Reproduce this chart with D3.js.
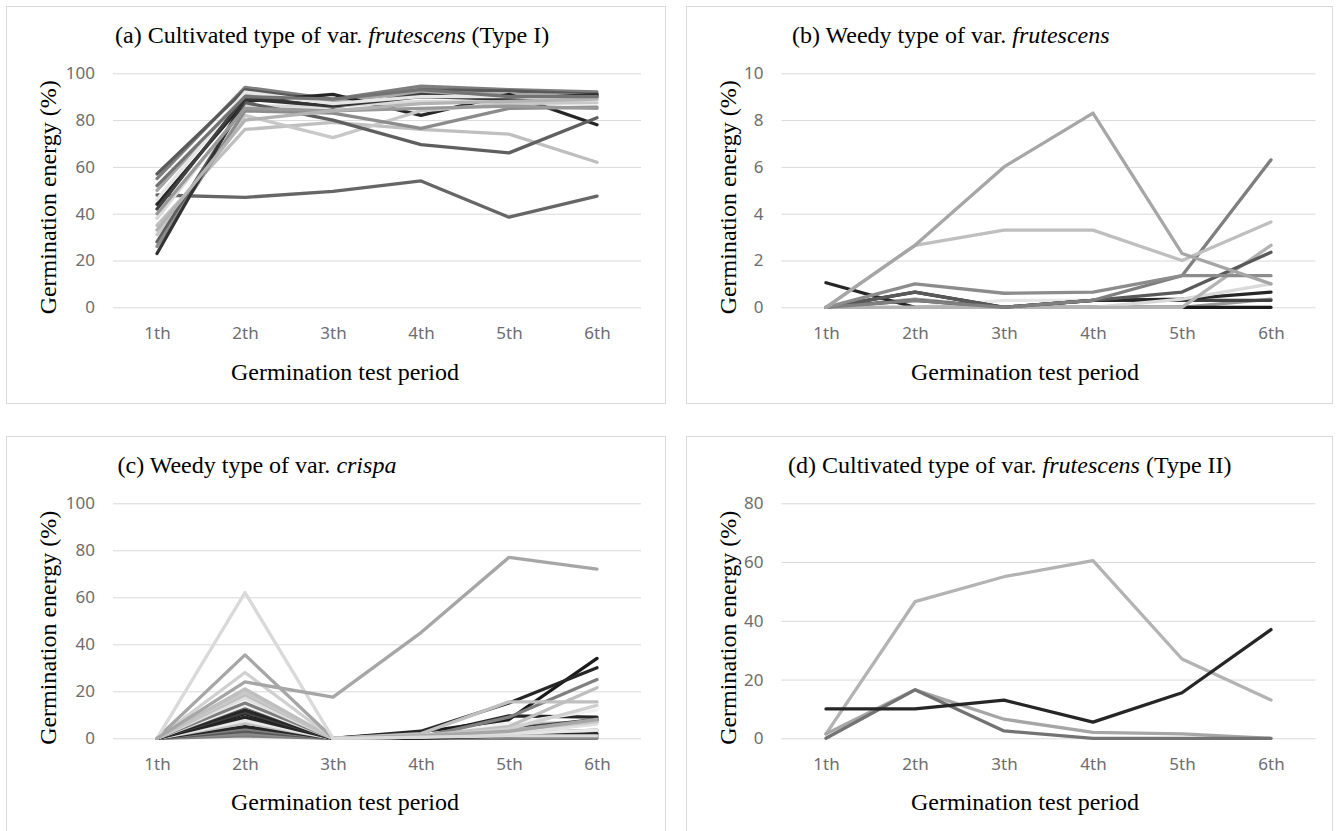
<!DOCTYPE html>
<html>
<head>
<meta charset="utf-8">
<script src="https://cdn.jsdelivr.net/npm/d3@7"></script>
<style>
body { margin: 0; background: #fff; }
.serif { font-family: "Times New Roman", "Liberation Serif", serif; }
.tick text { font-family: "Malgun Gothic", "Noto Sans", sans-serif; font-size: 17px; fill: #6d6d6d; }
</style>
</head>
<body>
<svg id="fig" width="1339" height="831"></svg>
<script>
var periods = ["1th", "2th", "3th", "4th", "5th", "6th"];

var ticksA = [0, 20, 40, 60, 80, 100];
var ticksB = [0, 2, 4, 6, 8, 10];
var ticksC = [0, 20, 40, 60, 80, 100];
var ticksD = [0, 20, 40, 60, 80];

var titleA = ["(a) Cultivated type of var. ", "frutescens", " (Type I)"];
var titleB = ["(b) Weedy type of var. ", "frutescens", ""];
var titleC = ["(c) Weedy type of var. ", "crispa", ""];
var titleD = ["(d) Cultivated type of var. ", "frutescens", " (Type II)"];

// germination energy (%) per accession, 1th..6th period
var seriesA = [
    [55, 94, 89, 94.5, 93, 92],
    [57, 93, 88, 93, 92.5, 91],
    [50, 91, 88, 92, 91, 90.5],
    [48, 47, 49.5, 54, 38.5, 47.5],
    [44, 88, 91, 82, 91, 78],
    [42, 90, 85.5, 91, 88.5, 90],
    [38, 86, 86, 88, 88, 89],
    [35, 76, 79, 76, 74, 62],
    [31, 82, 72.5, 84, 87, 87.5],
    [28, 87.5, 80, 69.5, 66, 81],
    [26, 84, 83, 76.5, 85, 85.5],
    [23, 89, 86, 90, 89, 91],
    [46, 92, 87, 90, 90, 88.5],
    [40, 85, 84, 85, 86, 85],
    [33, 80, 84, 87, 88, 89],
    [52, 90, 89, 93, 90, 90]
];
var greysA = ["#7f7f7f", "#595959", "#a6a6a6", "#666666", "#262626", "#404040", "#d9d9d9", "#bfbfbf",
              "#c8c8c8", "#5f5f5f", "#8c8c8c", "#333333", "#e6e6e6", "#999999", "#b3b3b3", "#737373"];

var seriesB = [
    [0, 0, 0, 0, 0, 0],
    [0, 0, 0.3, 0.3, 0.3, 0.3],
    [0, 0.35, 0, 0, 0, 0.35],
    [0, 0.3, 0, 0.3, 0.3, 0.3],
    [0, 0.65, 0, 0, 0, 0],
    [1.05, 0, 0, 0.3, 0.35, 0.65],
    [0, 0, 0, 0, 0.35, 1.0],
    [0, 0, 0, 0, 0, 2.65],
    [0, 0.65, 0, 0.3, 0.65, 2.35],
    [0, 0.3, 0, 0.3, 1.35, 6.3],
    [0, 1.0, 0.6, 0.65, 1.35, 1.35],
    [0, 2.65, 3.3, 3.3, 2.0, 3.65],
    [0, 2.65, 6.0, 8.3, 2.3, 1.0]
];
var greysB = ["#cccccc", "#e6e6e6", "#999999", "#404040", "#1a1a1a", "#262626", "#d9d9d9",
              "#b3b3b3", "#595959", "#7f7f7f", "#8c8c8c", "#bfbfbf", "#a6a6a6"];

var seriesC = [
    [0, 1, 0, 0, 0, 0],
    [0, 2, 0, 0, 0.5, 0.5],
    [0, 3, 0, 0.5, 1, 1],
    [0, 4, 0, 0, 2, 3.5],
    [0, 5, 0, 0, 1, 2],
    [0, 6.5, 0, 1, 6, 7],
    [0, 7.5, 0, 0.5, 2, 3.5],
    [0, 9, 0, 1, 9.5, 9],
    [0, 10.5, 0, 2.5, 8, 34],
    [0, 11, 0, 1, 4, 8],
    [0, 12, 0, 3, 15, 30],
    [0, 13.5, 0, 1, 3, 8],
    [0, 14, 0, 1.5, 6, 12],
    [0, 15, 0, 0.5, 9, 25],
    [0, 17, 0, 1, 2, 6],
    [0, 18.5, 0, 2, 15.5, 15.5],
    [0, 19.5, 0, 1, 3.5, 7],
    [0, 21, 0, 1, 5, 21.5],
    [0, 28, 0, 0.5, 4, 14],
    [0, 35.5, 0, 1, 3, 8],
    [0, 62, 0, 0.5, 1, 1],
    [0, 24, 17.5, 45, 77, 72]
];
var greysC = ["#7f7f7f", "#8c8c8c", "#595959", "#7f7f7f", "#262626", "#bfbfbf", "#e8e8e8", "#262626",
              "#1a1a1a", "#404040", "#262626", "#595959", "#f0f0f0", "#7f7f7f", "#e0e0e0", "#bfbfbf",
              "#c8c8c8", "#bfbfbf", "#d0d0d0", "#a6a6a6", "#d9d9d9", "#a6a6a6"];

var seriesD = [
    [1.5, 46.5, 55, 60.5, 27, 13],
    [1.5, 16.5, 6.5, 2, 1.5, 0],
    [0, 16.5, 2.5, 0, 0, 0],
    [10, 10, 13, 5.5, 15.5, 37]
];
var greysD = ["#b3b3b3", "#a6a6a6", "#737373", "#262626"];

var svg = d3.select("#fig");

function drawPanel(box, title, ticks, series, greys) {
    var g = svg.append("g");

    g.append("rect")
        .attr("x", box.x + 0.5).attr("y", box.y + 0.5)
        .attr("width", box.w).attr("height", box.h)
        .attr("fill", "none").attr("stroke", "#d9d9d9");

    var x = d3.scalePoint().domain(periods).range([box.px0, box.px1]).padding(0.5),
        y = d3.scaleLinear().domain([0, d3.max(ticks)]).range([box.py0, box.py1]);

    // gridlines + y labels
    var ya = g.append("g").attr("transform", "translate(" + box.px0 + ",0)")
        .call(d3.axisLeft(y).tickValues(ticks).tickSize(-(box.px1 - box.px0)).tickPadding(18));
    ya.select(".domain").remove();
    ya.selectAll(".tick line").attr("stroke", "#d9d9d9");

    var xa = g.append("g").attr("transform", "translate(0," + box.py0 + ")")
        .call(d3.axisBottom(x).tickSize(0).tickPadding(20));
    xa.select(".domain").remove();

    var line = d3.line().x((d, i) => x(periods[i])).y(d => y(d));

    g.selectAll("path.series").data(series).enter().append("path")
        .attr("class", "series")
        .attr("d", line)
        .attr("fill", "none")
        .attr("stroke", (d, i) => greys[i])
        .attr("stroke-width", 3.3)
        .attr("stroke-linejoin", "round")
        .attr("stroke-linecap", "round");

    var t = g.append("text").attr("class", "serif")
        .attr("x", box.tx).attr("y", box.y + 37)
        .attr("font-size", 24).attr("fill", "#000");
    t.append("tspan").text(title[0]);
    t.append("tspan").attr("font-style", "italic").text(title[1]);
    if (title[2]) { t.append("tspan").text(title[2]); }

    g.append("text").attr("class", "serif")
        .attr("x", box.x + 339).attr("y", box.y + 374)
        .attr("text-anchor", "middle").attr("font-size", 24)
        .text("Germination test period");

    g.append("text").attr("class", "serif")
        .attr("transform", "translate(" + (box.x + 50) + "," + ((box.py0 + box.py1) / 2 + 7) + ") rotate(-90)")
        .attr("text-anchor", "middle").attr("font-size", 24)
        .text("Germination energy (%)");
}

drawPanel({x: 6, y: 6, w: 659, h: 397, px0: 113, px1: 641, py0: 307.3, py1: 73.3, tx: 115},
          titleA, ticksA, seriesA, greysA);
drawPanel({x: 686, y: 6, w: 646, h: 397, px0: 781.5, px1: 1315.5, py0: 307.3, py1: 73.3, tx: 792},
          titleB, ticksB, seriesB, greysB);
drawPanel({x: 6, y: 436, w: 659, h: 400, px0: 113, px1: 641, py0: 738.3, py1: 503.3, tx: 117.5},
          titleC, ticksC, seriesC, greysC);
drawPanel({x: 686, y: 436, w: 646, h: 400, px0: 781.5, px1: 1315.5, py0: 738.3, py1: 503.3, tx: 788},
          titleD, ticksD, seriesD, greysD);
</script>
</body>
</html>
